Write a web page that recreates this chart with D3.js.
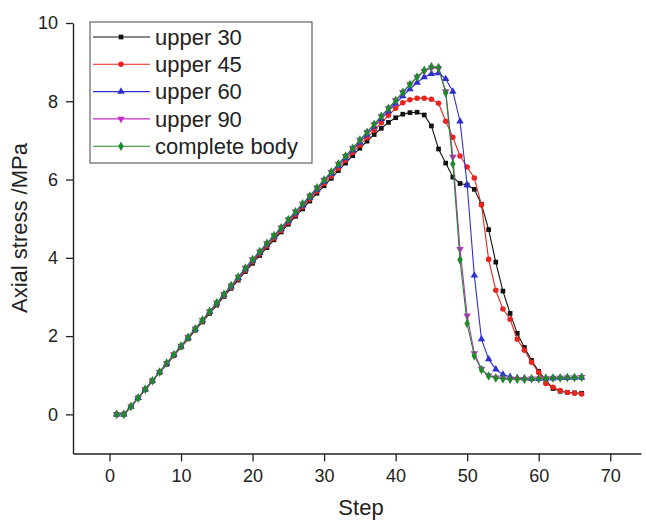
<!DOCTYPE html>
<html>
<head>
<meta charset="utf-8">
<script src="https://cdn.jsdelivr.net/npm/d3@7"></script>
<style>
  body { margin: 0; background: #fff; }
  svg { display: block; }
  text { font-family: "Liberation Sans", Arial, sans-serif; fill: #222; }
</style>
</head>
<body>
<div id="chart"></div>
<script>
// Step numbers (x)
var steps = [1,2,3,4,5,6,7,8,9,10,11,12,13,14,15,16,17,18,19,20,21,22,23,24,25,26,27,28,29,30,
  31,32,33,34,35,36,37,38,39,40,41,42,43,44,45,46,47,48,49,50,51,52,53,54,55,56,57,58,59,60,
  61,62,63,64,65,66];

// Axial stress (MPa)
var upper30 = [0,0,0.20,0.42,0.63,0.85,1.07,1.28,1.50,1.72,1.93,2.15,2.36,2.58,2.79,3.01,3.22,3.43,3.65,3.86,
  4.06,4.26,4.46,4.66,4.86,5.06,5.25,5.45,5.65,5.84,6.03,6.23,6.42,6.61,6.80,6.98,7.15,7.31,7.46,7.58,
  7.67,7.71,7.72,7.65,7.37,6.78,6.42,6.06,5.90,5.86,5.75,5.37,4.72,3.89,3.15,2.58,2.07,1.71,1.38,1.10,
  0.87,0.66,0.59,0.56,0.55,0.54];
var upper45 = [0,0,0.20,0.42,0.64,0.86,1.07,1.29,1.51,1.73,1.95,2.17,2.38,2.60,2.82,3.03,3.25,3.46,3.68,3.90,
  4.10,4.30,4.50,4.70,4.90,5.10,5.30,5.50,5.70,5.90,6.09,6.29,6.49,6.69,6.88,7.07,7.26,7.45,7.64,7.82,
  7.96,8.04,8.08,8.08,8.05,7.95,7.49,7.08,6.60,6.32,6.04,5.35,3.96,3.17,2.69,2.43,1.92,1.64,1.33,1.07,
  0.79,0.69,0.61,0.56,0.54,0.52];
var upper60 = [0,0,0.20,0.42,0.64,0.86,1.08,1.30,1.52,1.74,1.96,2.18,2.40,2.62,2.84,3.05,3.27,3.49,3.71,3.93,
  4.13,4.34,4.54,4.74,4.94,5.14,5.34,5.54,5.74,5.95,6.15,6.35,6.55,6.75,6.95,7.15,7.35,7.55,7.75,7.94,
  8.13,8.31,8.48,8.62,8.70,8.72,8.57,8.25,7.49,5.86,3.55,1.92,1.41,1.15,1.02,0.96,0.93,0.92,0.91,0.91,
  0.92,0.92,0.93,0.93,0.94,0.94];
var upper90 = [0,0,0.20,0.42,0.64,0.86,1.08,1.31,1.53,1.75,1.97,2.19,2.41,2.63,2.85,3.07,3.29,3.51,3.74,3.96,
  4.16,4.37,4.57,4.77,4.98,5.18,5.38,5.58,5.79,5.99,6.19,6.40,6.60,6.80,7.01,7.21,7.41,7.62,7.82,8.02,
  8.23,8.43,8.62,8.77,8.85,8.84,8.25,6.58,4.22,2.52,1.56,1.16,0.99,0.94,0.91,0.90,0.90,0.90,0.91,0.91,
  0.92,0.93,0.93,0.94,0.94,0.95];
var complete = [0,0,0.20,0.42,0.64,0.86,1.08,1.31,1.53,1.75,1.97,2.19,2.41,2.63,2.85,3.07,3.29,3.51,3.74,3.96,
  4.16,4.37,4.57,4.77,4.98,5.18,5.38,5.58,5.79,5.99,6.19,6.40,6.60,6.80,7.01,7.21,7.41,7.62,7.82,8.02,
  8.23,8.43,8.62,8.79,8.88,8.86,8.22,6.40,3.95,2.32,1.50,1.14,0.98,0.93,0.91,0.90,0.90,0.90,0.91,0.91,
  0.92,0.93,0.93,0.94,0.94,0.95];

var seriesNames = ["upper 30", "upper 45", "upper 60", "upper 90", "complete body"];
var xTicks = [0, 10, 20, 30, 40, 50, 60, 70];
var yTicks = [0, 2, 4, 6, 8, 10];

var series = [
  {name: seriesNames[0], values: upper30, color: "#111111", symbol: d3.symbolSquare, size: 22, rot: 0},
  {name: seriesNames[1], values: upper45, color: "#e8241e", symbol: d3.symbolCircle, size: 24, rot: 0},
  {name: seriesNames[2], values: upper60, color: "#2f2fd0", symbol: d3.symbolTriangle, size: 24, rot: 0},
  {name: seriesNames[3], values: upper90, color: "#c02cc4", symbol: d3.symbolTriangle, size: 24, rot: 180},
  {name: seriesNames[4], values: complete, color: "#1f8a2c", symbol: d3.symbolDiamond, size: 26, rot: 0}
];

var width = 646, height = 521;
var svg = d3.select("#chart").append("svg")
    .attr("width", width)
    .attr("height", height);

var x = d3.scaleLinear().domain([-5.1, 74.3]).range([73, 641]);
var y = d3.scaleLinear().domain([-1, 10]).range([453.5, 23]);

// axes
var xAxis = svg.append("g")
    .attr("transform", "translate(0," + y.range()[0] + ")")
    .call(d3.axisBottom(x).tickValues(xTicks).tickSize(8).tickSizeOuter(0).tickPadding(8));
var yAxis = svg.append("g")
    .attr("transform", "translate(" + x.range()[0] + ",0)")
    .call(d3.axisLeft(y).tickValues(yTicks).tickSize(7).tickSizeOuter(0).tickPadding(8));

[xAxis, yAxis].forEach(function(g) {
    g.selectAll("path.domain").attr("stroke", "#222").attr("stroke-width", 1.4);
    g.selectAll(".tick line").attr("stroke", "#222").attr("stroke-width", 1.3);
    g.selectAll(".tick text").attr("font-size", 18).attr("fill", "#333")
        .attr("font-family", "Liberation Sans, Arial, sans-serif");
});

svg.append("text")
    .attr("x", (x.range()[0] + x.range()[1]) / 2 + 4)
    .attr("y", 515)
    .attr("text-anchor", "middle")
    .attr("font-size", 22)
    .text("Step");

svg.append("text")
    .attr("transform", "translate(27,228) rotate(-90)")
    .attr("text-anchor", "middle")
    .attr("font-size", 22)
    .text("Axial stress /MPa");

// lines + markers
var line = d3.line()
    .x(function(d, i) { return x(steps[i]); })
    .y(function(d) { return y(d); });

series.forEach(function(s) {
    var g = svg.append("g");
    g.append("path")
        .attr("d", line(s.values))
        .attr("fill", "none")
        .attr("stroke", s.color)
        .attr("stroke-width", 1.1);
    g.selectAll("path.pt")
        .data(s.values)
        .enter().append("path")
        .attr("class", "pt")
        .attr("d", d3.symbol().type(s.symbol).size(s.size))
        .attr("transform", function(d, i) {
            return "translate(" + x(steps[i]) + "," + y(d) + ") rotate(" + s.rot + ")";
        })
        .attr("fill", s.color);
});

// legend
var legend = svg.append("g");
legend.append("rect")
    .attr("x", 90).attr("y", 22)
    .attr("width", 222).attr("height", 141)
    .attr("fill", "#fff")
    .attr("stroke", "#555")
    .attr("stroke-width", 1.1);

series.forEach(function(s, i) {
    var ly = 37 + i * 27.3;
    legend.append("line")
        .attr("x1", 93).attr("x2", 150)
        .attr("y1", ly).attr("y2", ly)
        .attr("stroke", s.color).attr("stroke-width", 1.1);
    legend.append("path")
        .attr("d", d3.symbol().type(s.symbol).size(s.size))
        .attr("transform", "translate(121," + ly + ") rotate(" + s.rot + ")")
        .attr("fill", s.color);
    legend.append("text")
        .attr("x", 155).attr("y", ly)
        .attr("dy", "0.35em")
        .attr("font-size", 22)
        .text(s.name);
});
</script>
</body>
</html>
